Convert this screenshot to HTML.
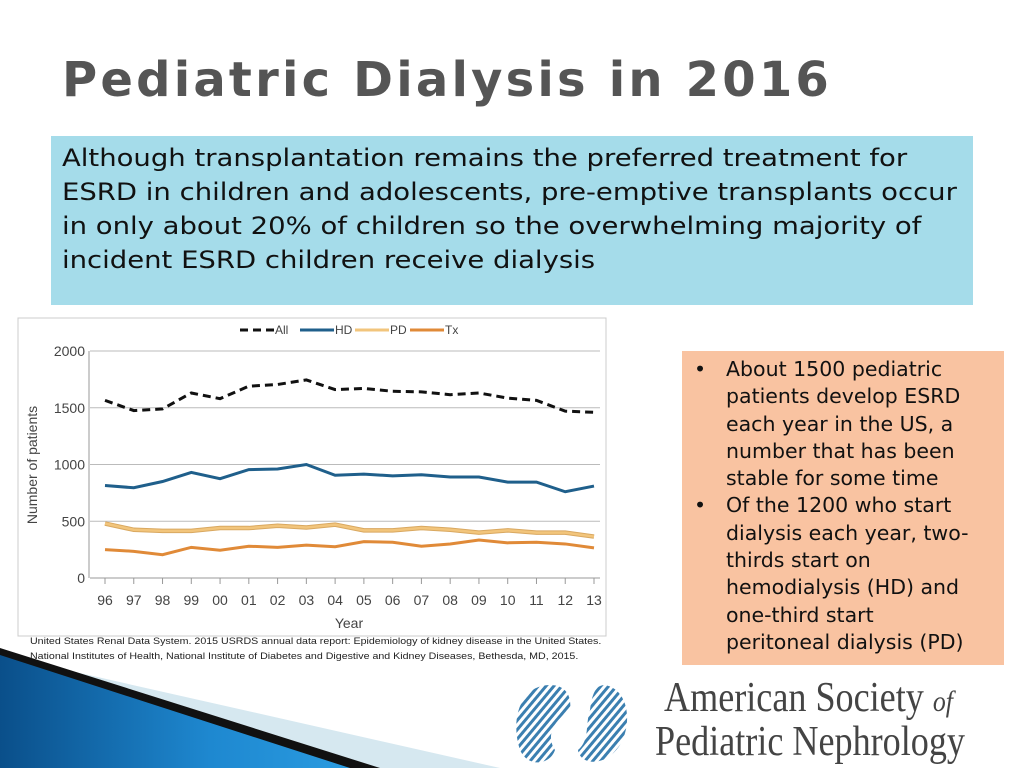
<!DOCTYPE html>
<html><head><meta charset="utf-8"><style>
body{margin:0;width:1024px;height:768px;background:#fff;position:relative;overflow:hidden;font-family:"Liberation Sans",sans-serif}
.abs{position:absolute}
#title{left:62px;top:52px;font-size:48px;font-weight:bold;color:#555;letter-spacing:3.2px;font-family:"DejaVu Sans",sans-serif}
#intro{left:51px;top:136px;width:922px;height:169px;background:#a5dcea;box-sizing:border-box;padding:5px 11px;font-family:"DejaVu Sans",sans-serif;font-size:24px;line-height:34px;color:#111;white-space:nowrap}
#intro span{display:inline-block;transform:scaleX(1.145);transform-origin:left}
#bullets{left:682px;top:351px;width:322px;height:314px;background:#f9c3a1;font-family:"DejaVu Sans",sans-serif;font-size:20.5px;line-height:27.3px;color:#111;box-sizing:border-box;padding:5px 6px 0 6px;white-space:nowrap}
#bullets div{position:relative;padding-left:38px}
#bullets div span{position:absolute;left:6px}
#cite{left:30px;top:634px;font-size:9.5px;line-height:15px;color:#222;white-space:nowrap;transform:scaleX(1.12);transform-origin:left}
#logo-text{left:655px;top:678px;font-family:"Liberation Serif",serif;font-size:42px;line-height:40px;color:#444;transform:scaleX(0.86);transform-origin:left;white-space:nowrap}
</style></head><body>
<svg class="abs" style="left:0;top:0" width="1024" height="768">
<defs><linearGradient id="bg" x1="0" y1="0" x2="1" y2="0"><stop offset="0" stop-color="#0a4f8a"/><stop offset="0.6" stop-color="#1e88d0"/><stop offset="1" stop-color="#2a9be0"/></linearGradient></defs>
<polygon points="0,655 500,768 0,768" fill="#d6e8f0"/>
<polygon points="0,648 380,768 0,768" fill="#111"/>
<polygon points="0,655 350,768 0,768" fill="url(#bg)"/>
</svg>
<div id="title" class="abs">Pediatric Dialysis in 2016</div>
<div id="intro" class="abs"><span>Although transplantation remains the preferred treatment for<br>ESRD in children and adolescents, pre-emptive transplants occur<br>in only about 20% of children so the overwhelming majority of<br>incident ESRD children receive dialysis</span></div>
<div id="bullets" class="abs">
<div><span>•</span>About 1500 pediatric<br>patients develop ESRD<br>each year in the US, a<br>number that has been<br>stable for some time</div>
<div><span>•</span>Of the 1200 who start<br>dialysis each year, two-<br>thirds start on<br>hemodialysis (HD) and<br>one-third start<br>peritoneal dialysis (PD)</div>
</div>
<svg class="abs" id="chart" style="left:0;top:0" width="1024" height="768"></svg>
<div id="cite" class="abs">United States Renal Data System. 2015 USRDS annual data report: Epidemiology of kidney disease in the United States.<br>National Institutes of Health, National Institute of Diabetes and Digestive and Kidney Diseases, Bethesda, MD, 2015.</div>
<svg class="abs" style="left:510px;top:680px" width="125" height="88">
<defs><pattern id="st" width="6" height="6" patternUnits="userSpaceOnUse" patternTransform="rotate(-50)"><rect width="6" height="3" fill="#3b7fb0"/></pattern></defs>
<path d="M40,5 C10,5 0,40 10,70 C18,88 40,85 45,70 C35,55 45,40 60,30 C62,15 55,5 40,5Z" fill="url(#st)"/>
<path d="M95,5 C120,10 122,45 110,65 C95,88 70,85 68,70 C80,60 75,45 80,30 C82,15 85,5 95,5Z" fill="url(#st)"/>
</svg>
<div id="logo-text" class="abs">&nbsp;American Society <i style="font-size:30px">of</i><br>Pediatric Nephrology</div>
<script>
const years=["96","97","98","99","00","01","02","03","04","05","06","07","08","09","10","11","12","13"];
const allVals=[1565,1475,1490,1630,1580,1690,1705,1745,1660,1670,1645,1640,1615,1630,1585,1565,1470,1460];
const hdVals=[815,795,850,930,875,955,960,1000,905,915,900,910,890,890,845,845,760,810];
const pdVals=[480,425,415,415,440,440,460,445,470,420,420,440,425,400,420,400,400,365];
const txVals=[250,235,205,270,245,280,270,290,275,320,315,280,300,335,310,315,300,265];
const yTicks=[0,500,1000,1500,2000];
const svg=document.getElementById('chart');const NS='http://www.w3.org/2000/svg';
function mk(t,a,p){const e=document.createElementNS(NS,t);for(const k in a)e.setAttribute(k,a[k]);(p||svg).appendChild(e);return e;}
const x0=105,x1=594,yb=578,yt=351;
const X=i=>x0+i*(x1-x0)/(years.length-1);
const Y=v=>yb-v*(yb-yt)/2000;
const frame=mk('rect',{x:18,y:318,width:588,height:318,fill:'#fff',stroke:'#ccc'});


yTicks.forEach(v=>{
 const g=mk('line',{x1:90,x2:x1+6,y1:Y(v),y2:Y(v),stroke:v?'#bbb':'#999'});
 
 
 const t=mk('text',{x:85,y:Y(v)+5,'text-anchor':'end','font-size':14,fill:'#444'});t.textContent=v;
 
 
});
const ax=mk('line',{x1:89,x2:89,y1:yt,y2:yb,stroke:'#999'});


years.forEach((y,i)=>{
 const tk=mk('line',{x1:X(i),x2:X(i),y1:yb,y2:yb+6,stroke:'#999'});
 
 
 const t=mk('text',{x:X(i),y:605,'text-anchor':'middle','font-size':14,fill:'#444'});t.textContent=y;
 
 
});
const xt=mk('text',{x:349,y:628,'text-anchor':'middle','font-size':14,fill:'#444'});xt.textContent='Year';


const yt2=mk('text',{x:37,y:465,'text-anchor':'middle','font-size':14,fill:'#444',transform:'rotate(-90 37 465)'});yt2.textContent='Number of patients';


const series=[['All',allVals,'#111','8,5'],['HD',hdVals,'#1f5f8b',''],['PD',pdVals,'#f2c57c',''],['Tx',txVals,'#e08a38','']];
series.forEach(([n,vals,c,d])=>{
 if(n==='PD'){const o=mk('polyline',{points:vals.map((v,i)=>X(i)+','+Y(v)).join(' '),fill:'none',stroke:'#d9a860','stroke-width':4.5});}
 const p=mk('polyline',{points:vals.map((v,i)=>X(i)+','+Y(v)).join(' '),fill:'none',stroke:c,'stroke-width':n==='PD'?2.5:3,'stroke-dasharray':d});
 
 
});
const lx=[240,300,355,410];
series.forEach(([n,vals,c,d],i)=>{
 const l=mk('line',{x1:lx[i],x2:lx[i]+34,y1:330,y2:330,stroke:c,'stroke-width':3,'stroke-dasharray':d});
 
 
 const t=mk('text',{x:lx[i]+35,y:334,'font-size':12,fill:'#444'});t.textContent=n;
 
 
});
</script>
</body></html>
